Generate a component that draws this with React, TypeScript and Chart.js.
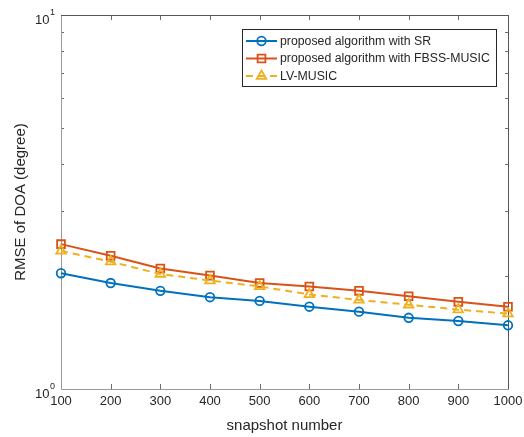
import React, { useEffect, useRef } from 'react';
import { Chart, registerables } from 'chart.js';

Chart.register(...registerables);

const snapshots = [100, 200, 300, 400, 500, 600, 700, 800, 900, 1000];
const rmseSR = [2.04, 1.92, 1.83, 1.76, 1.72, 1.66, 1.61, 1.55, 1.52, 1.48];
const rmseFBSS = [2.44, 2.27, 2.1, 2.01, 1.92, 1.88, 1.83, 1.77, 1.71, 1.66];
const rmseLV = [2.34, 2.19, 2.03, 1.95, 1.88, 1.79, 1.73, 1.68, 1.63, 1.59];
const seriesLabels = [
  'proposed algorithm with SR',
  'proposed algorithm with FBSS-MUSIC',
  'LV-MUSIC',
];
const yMajorTicks = [1, 10];
const yMajorExponents = ['0', '1'];
const yMinorTicks = [2, 3, 4, 5, 6, 7, 8, 9];
const xLabel = 'snapshot number';
const yLabel = 'RMSE of DOA (degree)';

const FONT = '"Liberation Sans", Arial, Helvetica, sans-serif';
const BLUE = '#0072BD';
const ORANGE = '#D95319';
const YELLOW = '#EDB120';
const TEXT = '#262626';

function drawMarker(ctx: CanvasRenderingContext2D, style: string, x: number, y: number, r: number) {
  ctx.beginPath();
  if (style === 'circle') {
    ctx.arc(x, y, r, 0, Math.PI * 2);
  } else if (style === 'rect') {
    const s = r * Math.SQRT1_2;
    ctx.rect(x - s, y - s, 2 * s, 2 * s);
  } else {
    const a = Math.PI * 2 / 3;
    ctx.moveTo(x, y - r);
    ctx.lineTo(x + Math.sin(a) * r, y - Math.cos(a) * r);
    ctx.lineTo(x + Math.sin(2 * a) * r, y - Math.cos(2 * a) * r);
    ctx.closePath();
  }
  ctx.stroke();
}

const framePlugin = {
  id: 'matlabFrame',
  beforeDatasetsDraw(chart: any) {
    const { ctx, chartArea } = chart;
    const { left, right, top, bottom } = chartArea;
    const xs = chart.scales.x;
    const ys = chart.scales.y;
    ctx.save();
    ctx.lineWidth = 1;
    // ticks
    ctx.strokeStyle = '#6b6b6b';
    ctx.beginPath();
    snapshots.forEach((v) => {
      const px = Math.round(xs.getPixelForValue(v)) + 0.5;
      ctx.moveTo(px, bottom);
      ctx.lineTo(px, bottom - 5);
      ctx.moveTo(px, top);
      ctx.lineTo(px, top + 5);
    });
    yMinorTicks.forEach((v) => {
      const py = Math.round(ys.getPixelForValue(v)) + 0.5;
      ctx.moveTo(left, py);
      ctx.lineTo(left + 3, py);
      ctx.moveTo(right, py);
      ctx.lineTo(right - 3, py);
    });
    ctx.stroke();
    // frame
    ctx.strokeStyle = '#9a9a9a';
    ctx.beginPath();
    ctx.moveTo(left + 0.5, top);
    ctx.lineTo(left + 0.5, bottom + 0.5);
    ctx.lineTo(right, bottom + 0.5);
    ctx.stroke();
    ctx.strokeStyle = '#555555';
    ctx.beginPath();
    ctx.moveTo(left, top + 0.5);
    ctx.lineTo(right + 0.5, top + 0.5);
    ctx.lineTo(right + 0.5, bottom + 0.5);
    ctx.stroke();

    // y tick labels (10^n)
    ctx.fillStyle = TEXT;
    ctx.textBaseline = 'alphabetic';
    yMajorTicks.forEach((v, i) => {
      const py = ys.getPixelForValue(v);
      ctx.font = `9px ${FONT}`;
      ctx.textAlign = 'right';
      const expW = ctx.measureText(yMajorExponents[i]).width;
      ctx.fillText(yMajorExponents[i], 55, py - 0.5);
      ctx.font = `13px ${FONT}`;
      ctx.fillText('10', 55 - expW - 0.5, py + 8.5);
    });

    // axis titles
    ctx.font = `15px ${FONT}`;
    ctx.textAlign = 'center';
    ctx.textBaseline = 'middle';
    ctx.fillText(xLabel, (left + right) / 2, 426);
    ctx.save();
    ctx.translate(21, (top + bottom) / 2);
    ctx.rotate(-Math.PI / 2);
    ctx.fillText(yLabel, 0, 0);
    ctx.restore();
    ctx.restore();
  },
  afterDraw(chart: any) {
    const { ctx } = chart;
    ctx.save();
    ctx.fillStyle = '#ffffff';
    ctx.fillRect(242, 29, 254, 57);
    ctx.strokeStyle = '#262626';
    ctx.lineWidth = 1;
    ctx.strokeRect(242.5, 29.5, 254, 57);
    const rowsY = [41, 58.5, 76];
    chart.data.datasets.forEach((ds: any, i: number) => {
      const y = rowsY[i];
      ctx.strokeStyle = ds.borderColor;
      ctx.lineWidth = 2;
      ctx.setLineDash(ds.borderDash || []);
      ctx.beginPath();
      ctx.moveTo(246, y);
      ctx.lineTo(277, y);
      ctx.stroke();
      ctx.setLineDash([]);
      ctx.lineWidth = ds.pointBorderWidth;
      drawMarker(ctx, ds.pointStyle, 261.5, y, ds.pointRadius);
      ctx.fillStyle = TEXT;
      ctx.font = `12.3px ${FONT}`;
      ctx.textAlign = 'left';
      ctx.textBaseline = 'middle';
      ctx.fillText(ds.label, 280, y + 0.5);
    });
    ctx.restore();
  },
};

export default function App() {
  const canvasRef = useRef<HTMLCanvasElement | null>(null);

  useEffect(() => {
    document.body.style.margin = '0';
    const canvas = canvasRef.current;
    if (!canvas) return;
    const mk = (vals: number[]) => snapshots.map((x, i) => ({ x, y: vals[i] }));
    const chart = new Chart(canvas, {
      type: 'line',
      data: {
        datasets: [
          {
            label: seriesLabels[0],
            data: mk(rmseSR),
            borderColor: BLUE,
            backgroundColor: 'rgba(0,0,0,0)',
            borderWidth: 2,
            pointStyle: 'circle',
            pointRadius: 4.3,
            pointBorderWidth: 1.8,
            pointBackgroundColor: 'rgba(0,0,0,0)',
            pointBorderColor: BLUE,
            order: 2,
            clip: false,
          } as any,
          {
            label: seriesLabels[1],
            data: mk(rmseFBSS),
            borderColor: ORANGE,
            backgroundColor: 'rgba(0,0,0,0)',
            borderWidth: 2,
            pointStyle: 'rect',
            pointRadius: 5.5,
            pointBorderWidth: 1.8,
            pointBackgroundColor: 'rgba(0,0,0,0)',
            pointBorderColor: ORANGE,
            order: 1,
            clip: false,
          } as any,
          {
            label: seriesLabels[2],
            data: mk(rmseLV),
            borderColor: YELLOW,
            backgroundColor: 'rgba(0,0,0,0)',
            borderWidth: 2,
            borderDash: [7, 5],
            pointStyle: 'triangle',
            pointRadius: 5.5,
            pointBorderWidth: 1.8,
            pointBackgroundColor: 'rgba(0,0,0,0)',
            pointBorderColor: YELLOW,
            order: 0,
            clip: false,
          } as any,
        ],
      },
      options: {
        responsive: false,
        animation: false,
        devicePixelRatio: 1,
        layout: { padding: { top: 15, right: 16, left: 0, bottom: 0 } },
        plugins: { legend: { display: false }, tooltip: { enabled: false } },
        scales: {
          x: {
            type: 'linear',
            min: 100,
            max: 1000,
            grid: { display: false, drawTicks: false },
            border: { display: false },
            ticks: {
              stepSize: 100,
              padding: 1,
              color: TEXT,
              font: { family: FONT, size: 13, lineHeight: 1.77 },
              maxRotation: 0,
              autoSkip: false,
              callback: (v: any) => String(v),
            },
            afterFit: (s: any) => {
              s.height = 48;
            },
          },
          y: {
            type: 'logarithmic',
            min: 1,
            max: 10,
            grid: { display: false, drawTicks: false },
            border: { display: false },
            ticks: { display: false },
            afterFit: (s: any) => {
              s.width = 61;
            },
          },
        },
      },
      plugins: [framePlugin],
    });
    return () => chart.destroy();
  }, []);

  return (
    <div style={{ width: 524, height: 437, background: '#fff' }}>
      <canvas ref={canvasRef} width={524} height={437} />
    </div>
  );
}
